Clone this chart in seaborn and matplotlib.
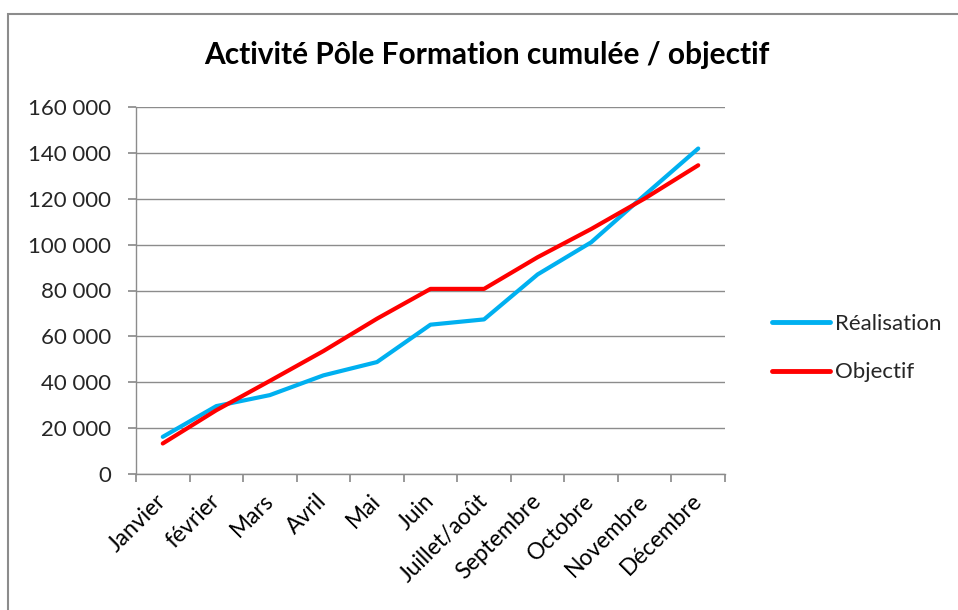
import matplotlib
matplotlib.use("Agg")
import matplotlib.pyplot as plt
from matplotlib.patches import Rectangle
from matplotlib.ticker import FuncFormatter, FixedLocator
import seaborn as sns
import pandas as pd

mois = ["Janvier", "février", "Mars", "Avril", "Mai", "Juin", "Juillet/août",
        "Septembre", "Octobre", "Novembre", "Décembre"]
realisation = [16200, 29600, 34400, 43000, 48800, 65100, 67400, 87000, 101000, 121600, 141900]
objectif = [13300, 27800, 40600, 53600, 67700, 80700, 80700, 94500, 106800, 120100, 134600]

rows = []
for i, m in enumerate(mois):
    rows.append({"pos": i, "mois": m, "serie": "Réalisation", "valeur": realisation[i]})
    rows.append({"pos": i, "mois": m, "serie": "Objectif", "valeur": objectif[i]})
df = pd.DataFrame(rows)

sns.set_theme(style="white")
plt.rcParams["font.family"] = ["Lato", "DejaVu Sans"]

fig = plt.figure(figsize=(9.58, 6.10), dpi=100)
ax = fig.add_axes([136 / 958, 1 - 474 / 610, (725 - 136) / 958, (474 - 107) / 610])

# cadre gris du graphique
fig.patches.append(Rectangle((8 / 958, -0.1), 1.2, 1 - 14 / 610 + 0.1, transform=fig.transFigure,
                             fill=False, edgecolor="#8c8c8c", linewidth=1.5))

sns.lineplot(data=df, x="pos", y="valeur", hue="serie",
             palette={"Réalisation": "#00B0F0", "Objectif": "#FF0000"},
             linewidth=3, ax=ax, legend=True)

ax.set_xlim(-0.5, len(mois) - 0.5)
ax.set_ylim(0, 160000)
ax.set_yticks(range(0, 160001, 20000))
ax.yaxis.set_major_formatter(FuncFormatter(lambda v, p: f"{int(v):,}".replace(",", " ")))
ax.grid(axis="y", color="#8c8c8c", linewidth=1)
ax.set_axisbelow(True)

ax.xaxis.set_major_locator(FixedLocator([i - 0.5 for i in range(len(mois) + 1)]))
ax.xaxis.set_minor_locator(FixedLocator(list(range(len(mois)))))
ax.set_xticklabels([], minor=False)
ax.set_xticklabels(mois, minor=True, rotation=45, ha="right", va="center", rotation_mode="anchor")
ax.tick_params(axis="x", which="major", length=6, color="#8c8c8c", direction="out", bottom=True)
ax.tick_params(axis="x", which="minor", length=0, labelsize=16.5, pad=17, colors="black")
ax.tick_params(axis="y", length=6, color="#8c8c8c", direction="out", left=True, labelsize=16, pad=12)

for s in ["top", "right"]:
    ax.spines[s].set_visible(False)
for s in ["left", "bottom"]:
    ax.spines[s].set_color("#8c8c8c")
    ax.spines[s].set_linewidth(1)

ax.set_xlabel("")
ax.set_ylabel("")

fig.text(0.508, 1 - 55 / 610, "Activité Pôle Formation cumulée / objectif",
         ha="center", va="center", fontsize=21.5, fontweight="bold", color="black")

leg = ax.legend(loc="center left", bbox_to_anchor=(752 / 958, 1 - 348 / 610), bbox_transform=fig.transFigure,
                frameon=False, fontsize=16, handlelength=2.6, handletextpad=0.25, labelspacing=1.3)
for line in leg.get_lines():
    line.set_linewidth(3.5)

fig.savefig("out.png", dpi=100)
